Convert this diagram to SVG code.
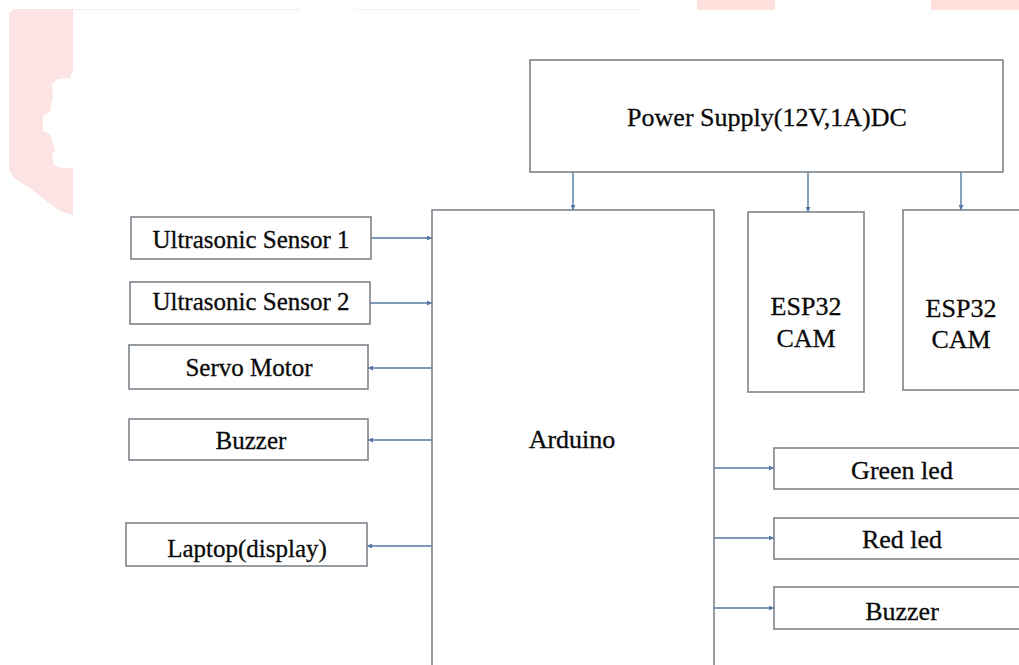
<svg xmlns="http://www.w3.org/2000/svg" width="1019" height="665" viewBox="0 0 1019 665">
<defs>
<style>
.box{fill:#fff;stroke:#7d848c;stroke-width:1.6}
.lbl{fill:#0a0a0a;stroke:#0a0a0a;stroke-width:0.3;text-anchor:middle}
.conn{stroke:#5279a4;stroke-width:1.4;fill:none}
</style>
<marker id="ah" viewBox="0 0 6 6" refX="6" refY="3" markerWidth="5" markerHeight="5" orient="auto" markerUnits="userSpaceOnUse">
<path d="M0,0 L6,3 L0,6 z" fill="#5279a4"/>
</marker>
</defs>
<rect width="1019" height="665" fill="#fff"/>
<g id="watermark">
<path d="M13,9 L73,9 L73,215 L60,211 L45,200 L30,188 L14,178 L9,170 L9,14 Z" fill="#fde4e4"/>
<path d="M73,70 L70,78 L58,79 L52,84 L53,96 L50,112 L43,116 L43,131 L50,134 L55,150 L52,156 L54,165 L62,168 L73,168 Z" fill="#fff"/>
<rect x="697" y="0" width="78" height="10" fill="#fde0dc"/>
<rect x="931" y="0" width="88" height="10" fill="#fde0dc"/>
<line x1="73" y1="9.5" x2="300" y2="9.5" stroke="#fbeaea" stroke-width="1"/>
<line x1="355" y1="9.5" x2="640" y2="9.5" stroke="#f3f3ee" stroke-width="1"/>
</g>
<g id="connectors">
<line class="conn" x1="573" y1="172" x2="573" y2="210" marker-end="url(#ah)"/>
<line class="conn" x1="808" y1="172" x2="808" y2="212" marker-end="url(#ah)"/>
<line class="conn" x1="961" y1="172" x2="961" y2="210" marker-end="url(#ah)"/>
<line class="conn" x1="371" y1="238" x2="432" y2="238" marker-end="url(#ah)"/>
<line class="conn" x1="370" y1="303" x2="432" y2="303" marker-end="url(#ah)"/>
<line class="conn" x1="432" y1="368" x2="368" y2="368" marker-end="url(#ah)"/>
<line class="conn" x1="432" y1="440" x2="368" y2="440" marker-end="url(#ah)"/>
<line class="conn" x1="432" y1="546" x2="367" y2="546" marker-end="url(#ah)"/>
<line class="conn" x1="714" y1="468" x2="774" y2="468" marker-end="url(#ah)"/>
<line class="conn" x1="714" y1="538" x2="774" y2="538" marker-end="url(#ah)"/>
<line class="conn" x1="714" y1="608" x2="774" y2="608" marker-end="url(#ah)"/>
</g>
<g font-family="'Liberation Serif', 'Times New Roman', 'DejaVu Serif', serif">
<g id="power">
<rect class="box" x="530" y="60" width="473" height="112"/>
<text class="lbl" x="767" y="126" font-size="26">Power Supply(12V,1A)DC</text>
</g>
<g id="arduino">
<rect class="box" x="432" y="210" width="282" height="470"/>
<text class="lbl" x="572" y="448" font-size="26">Arduino</text>
</g>
<g id="esp1">
<rect class="box" x="748" y="212" width="116" height="180"/>
<text class="lbl" x="806" y="315" font-size="26">ESP32</text>
<text class="lbl" x="806" y="347" font-size="26">CAM</text>
</g>
<g id="esp2">
<rect class="box" x="903" y="210" width="125" height="180"/>
<text class="lbl" x="961" y="317" font-size="26">ESP32</text>
<text class="lbl" x="961" y="348" font-size="26">CAM</text>
</g>
<g id="us1">
<rect class="box" x="131" y="217" width="240" height="42"/>
<text class="lbl" x="251" y="248" font-size="25">Ultrasonic Sensor 1</text>
</g>
<g id="us2">
<rect class="box" x="130" y="282" width="240" height="42"/>
<text class="lbl" x="251" y="310" font-size="25">Ultrasonic Sensor 2</text>
</g>
<g id="servo">
<rect class="box" x="129" y="345" width="239" height="44"/>
<text class="lbl" x="249" y="376" font-size="25">Servo Motor</text>
</g>
<g id="buzzer1">
<rect class="box" x="129" y="419" width="239" height="41"/>
<text class="lbl" x="251" y="449" font-size="25">Buzzer</text>
</g>
<g id="laptop">
<rect class="box" x="126" y="523" width="241" height="43"/>
<text class="lbl" x="247" y="557" font-size="25">Laptop(display)</text>
</g>
<g id="greenled">
<rect class="box" x="774" y="448" width="260" height="41"/>
<text class="lbl" x="902" y="479" font-size="26">Green led</text>
</g>
<g id="redled">
<rect class="box" x="774" y="518" width="260" height="41"/>
<text class="lbl" x="902" y="548" font-size="26">Red led</text>
</g>
<g id="buzzer2">
<rect class="box" x="774" y="587" width="260" height="42"/>
<text class="lbl" x="902" y="620" font-size="26">Buzzer</text>
</g>
</g>
</svg>
